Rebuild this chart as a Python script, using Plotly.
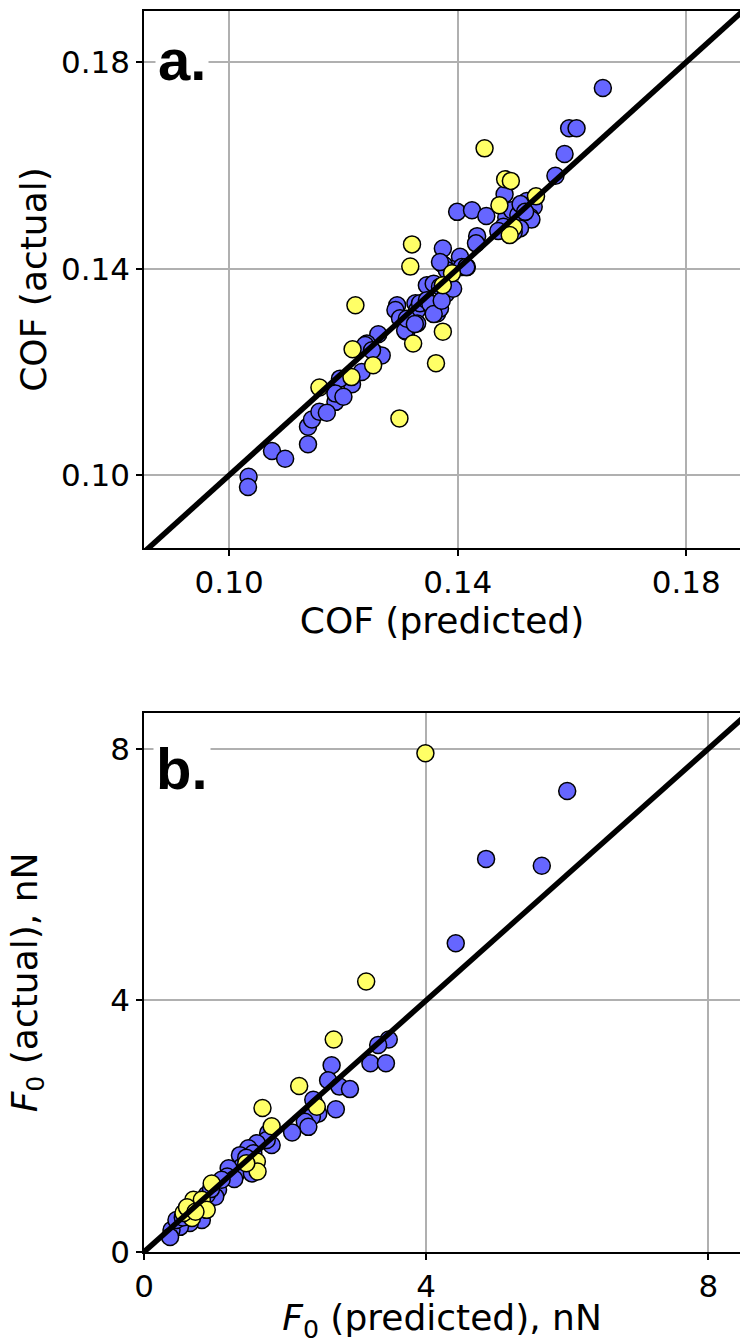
import plotly.graph_objects as go

# ---- panel a: coefficient of friction ----
cof_blue_pred = [
    0.1654, 0.1595, 0.1608, 0.1587, 0.1571, 0.1482, 0.1521, 0.1533, 0.1527,
    0.1399, 0.1425, 0.1450, 0.1485, 0.1495, 0.1506, 0.1515, 0.1529, 0.1510,
    0.1518, 0.1480, 0.1509, 0.1498, 0.1471, 0.1434, 0.1432, 0.1374, 0.1404,
    0.1372, 0.1387, 0.1407, 0.1416, 0.1376, 0.1381, 0.1369, 0.1346, 0.1358,
    0.1369, 0.1379, 0.1392, 0.1415, 0.1294, 0.1291, 0.1299, 0.1326, 0.1329,
    0.1334, 0.1346, 0.1355, 0.1364, 0.1369, 0.1352, 0.1358, 0.1372, 0.1310,
    0.1329, 0.1308, 0.1311, 0.1325, 0.1261, 0.1241, 0.1253, 0.1267, 0.1238,
    0.1250, 0.1232, 0.1215, 0.1194, 0.1186, 0.1186, 0.1200, 0.1138, 0.1145,
    0.1158, 0.1171, 0.1138, 0.1075, 0.1098, 0.1034, 0.1033,
]
cof_blue_act = [
    0.1750, 0.1672, 0.1672, 0.1622, 0.1580, 0.1544, 0.1531, 0.1520, 0.1500,
    0.1510, 0.1513, 0.1502, 0.1499, 0.1513, 0.1504, 0.1494, 0.1495, 0.1525,
    0.1510, 0.1481, 0.1478, 0.1471, 0.1473, 0.1463, 0.1449, 0.1439, 0.1423,
    0.1410, 0.1400, 0.1403, 0.1403, 0.1407, 0.1397, 0.1413, 0.1368, 0.1371,
    0.1365, 0.1351, 0.1361, 0.1403, 0.1329, 0.1320, 0.1304, 0.1333, 0.1320,
    0.1333, 0.1339, 0.1326, 0.1313, 0.1323, 0.1332, 0.1312, 0.1338, 0.1278,
    0.1294, 0.1280, 0.1303, 0.1293, 0.1273, 0.1255, 0.1239, 0.1232, 0.1252,
    0.1242, 0.1200, 0.1176, 0.1187, 0.1142, 0.1158, 0.1152, 0.1094, 0.1108,
    0.1123, 0.1121, 0.1060, 0.1047, 0.1032, 0.0997, 0.0977,
]
cof_yellow_pred = [
    0.1447, 0.1483, 0.1493, 0.1537, 0.1473, 0.1498, 0.1491, 0.1320, 0.1317,
    0.1390, 0.1374, 0.1221, 0.1374, 0.1322, 0.1216, 0.1252, 0.1362, 0.1214,
    0.1158, 0.1298,
]
cof_yellow_act = [
    0.1633, 0.1573, 0.1570, 0.1540, 0.1523, 0.1480, 0.1465, 0.1447, 0.1404,
    0.1391, 0.1368, 0.1329, 0.1278, 0.1255, 0.1244, 0.1213, 0.1217, 0.1190,
    0.1170, 0.1110,
]
cof_xrange = [0.0851, 0.1894]
cof_yrange = [0.0859, 0.1899]
cof_ticks = [0.10, 0.14, 0.18]

# ---- panel b: adhesion force F0 ----
f0_blue_pred = [
    6.00, 4.85, 5.64, 4.42, 3.47, 3.32, 3.21, 3.43, 2.66, 2.61, 2.77, 2.92,
    2.40, 2.47, 2.38, 2.72, 2.28, 2.33, 2.10, 1.76, 1.81, 1.74, 1.60, 1.48,
    1.36, 1.55, 1.39, 1.31, 1.53, 1.20, 1.18, 1.28, 1.05, 1.01, 0.89, 0.82,
    0.65, 0.51, 0.39, 0.37, 0.75, 0.61, 0.46, 1.10, 1.45, 0.95, 0.55,
]
f0_blue_act = [
    7.33, 6.25, 6.14, 4.91, 3.38, 3.29, 3.00, 3.00, 2.97, 2.73, 2.63, 2.59,
    2.42, 2.20, 2.15, 2.27, 2.07, 1.99, 1.90, 1.89, 1.70, 1.78, 1.73, 1.65,
    1.54, 1.57, 1.36, 1.25, 1.25, 1.33, 1.20, 1.16, 0.99, 0.88, 0.91, 0.51,
    0.46, 0.40, 0.35, 0.24, 0.67, 0.56, 0.51, 1.15, 1.50, 1.00, 0.55,
]
f0_yellow_pred = [
    3.99, 3.15, 2.69, 2.20, 2.45, 1.68, 1.81, 1.60, 1.61, 1.45, 0.96, 0.70,
    0.82, 0.89, 0.68, 0.56, 0.61, 0.73,
]
f0_yellow_act = [
    7.93, 4.30, 3.38, 2.64, 2.31, 2.29, 2.00, 1.44, 1.28, 1.41, 1.09, 0.83,
    0.83, 0.67, 0.54, 0.62, 0.71, 0.64,
]
f0_xrange = [0, 8.45]
f0_yrange = [0, 8.57]
f0_ticks = [0, 4, 8]

BLUE = "#6666ff"
YELLOW = "#ffff66"
FONT = "DejaVu Sans"


def scatter(x, y, color, xa, ya):
    return go.Scatter(
        x=x, y=y, mode="markers", xaxis=xa, yaxis=ya, showlegend=False,
        marker=dict(size=17, color=color, line=dict(color="black", width=1.5)),
    )


def diagonal(rng, xa, ya):
    lo, hi = min(rng), max(rng) * 1.05
    return go.Scatter(
        x=[lo, hi], y=[lo, hi], mode="lines", xaxis=xa, yaxis=ya,
        showlegend=False, line=dict(color="black", width=5.5),
    )


fig = go.Figure()
fig.add_trace(scatter(cof_blue_pred, cof_blue_act, BLUE, "x", "y"))
fig.add_trace(scatter(cof_yellow_pred, cof_yellow_act, YELLOW, "x", "y"))
fig.add_trace(diagonal(cof_xrange + cof_yrange, "x", "y"))
fig.add_trace(scatter(f0_blue_pred, f0_blue_act, BLUE, "x2", "y2"))
fig.add_trace(scatter(f0_yellow_pred, f0_yellow_act, YELLOW, "x2", "y2"))
fig.add_trace(diagonal(f0_xrange + f0_yrange, "x2", "y2"))

axis_common = dict(
    showgrid=True, gridcolor="#b0b0b0", gridwidth=1.5,
    showline=True, linecolor="black", linewidth=1.6,
    ticks="outside", ticklen=6, tickwidth=1.5, tickcolor="black",
    tickfont=dict(family=FONT, size=31, color="black"),
    zeroline=False, automargin=False,
)
title_font = dict(family=FONT, size=36, color="black")

fig.update_layout(
    width=740, height=1344,
    margin=dict(l=0, r=0, t=0, b=0),
    paper_bgcolor="white", plot_bgcolor="white",
    xaxis=dict(axis_common, domain=[144 / 740, 1.0], range=cof_xrange,
               tickvals=cof_ticks, tickformat=".2f", mirror=True, anchor="y",
               title=dict(text="COF (predicted)", font=title_font, standoff=8)),
    yaxis=dict(axis_common, domain=[1 - 548 / 1344, 1 - 11 / 1344], range=cof_yrange,
               tickvals=cof_ticks, tickformat=".2f", anchor="x",
               title=dict(text="COF (actual)", font=title_font, standoff=3)),
    xaxis2=dict(axis_common, domain=[144 / 740, 1.0], range=f0_xrange,
                tickvals=f0_ticks, mirror=True, anchor="y2",
                title=dict(text="<i>F</i><sub>0</sub> (predicted), nN",
                           font=title_font, standoff=16)),
    yaxis2=dict(axis_common, domain=[1 - 1252 / 1344, 1 - 713 / 1344], range=f0_yrange,
                tickvals=f0_ticks, anchor="x2",
                title=dict(text="<i>F</i><sub>0</sub> (actual), nN",
                           font=title_font, standoff=62)),
)

for label, ypix in (("a.", 60), ("b.", 768)):
    fig.add_annotation(
        text=f"<b>{label}</b>", xref="paper", yref="paper",
        x=182 / 740, y=1 - ypix / 1344, xanchor="center", yanchor="middle",
        showarrow=False, bgcolor="white", borderpad=2,
        font=dict(family="Liberation Sans", size=58, color="black"),
    )

fig.write_html("out.html")
